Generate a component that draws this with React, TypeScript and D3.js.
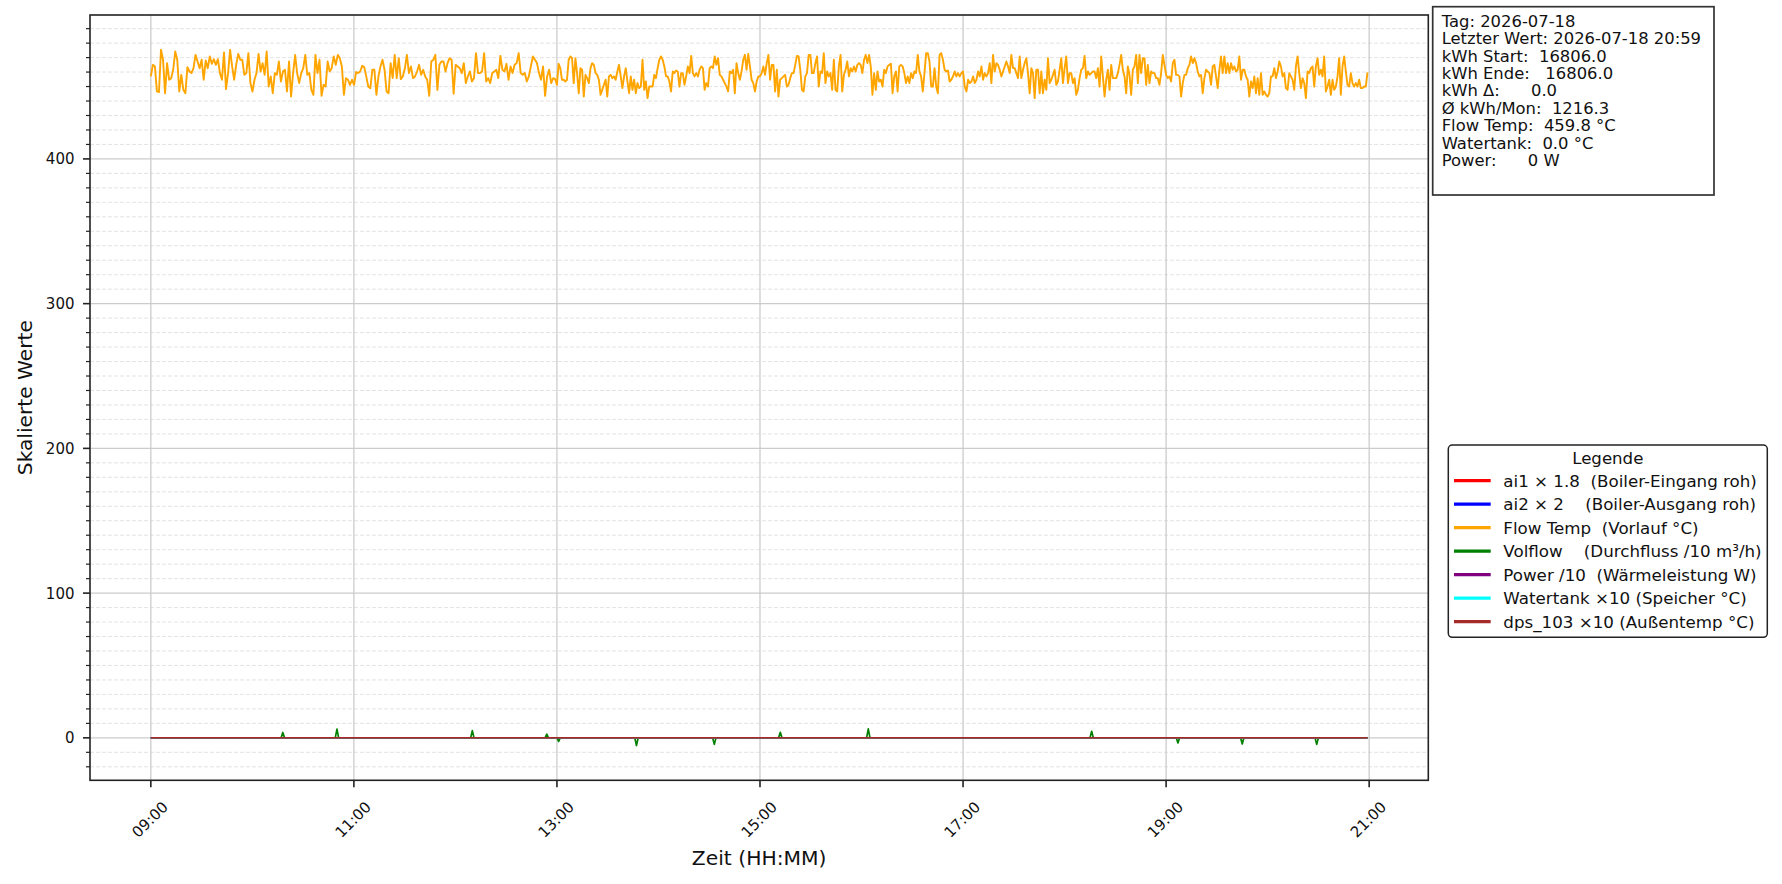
import * as d3 from "d3";

// --- data --------------------------------------------------------------
// Flow Temp (Vorlauf °C), sampled roughly every 1.2 min, three 4h stretches
const flowTempA = [
  457.0, 465.0, 463.9, 446.6, 446.1, 475.4, 468.5, 445.4, 466.2, 454.7, 455.8, 461.6, 474.2, 468.5, 446.6, 458.1,
  447.7, 445.4, 463.4, 460.4, 459.3, 462.7, 471.9, 467.3, 462.7, 468.5, 454.7, 468.0, 462.7, 470.8, 465.7, 468.9,
  465.0, 468.9, 459.3, 454.7, 473.5, 448.2, 459.3, 475.4, 463.9, 454.7, 465.0, 472.6, 468.5, 468.5, 458.1, 459.3,
  473.1, 452.4, 446.6, 454.7, 459.3, 472.6, 460.4, 466.2, 458.1, 474.2, 450.0, 457.0, 445.4, 459.3, 458.1, 467.3,
  453.5, 460.4, 461.6, 446.6, 467.3, 443.1, 459.3, 471.9, 459.3, 452.4, 459.3, 462.7, 471.9, 458.1, 459.3, 447.7,
  444.3, 471.9, 459.3, 468.5, 443.6, 451.2, 450.0, 467.3, 460.4, 462.7, 470.8, 465.0, 471.9, 469.6, 463.9, 444.3,
  455.8, 454.7, 451.2, 454.7, 451.2, 460.0, 459.3, 460.4, 464.3, 463.4, 457.0, 450.0, 448.9, 461.6, 461.6, 444.3,
  457.0, 463.9, 468.5, 461.6, 446.6, 445.4, 466.2, 455.8, 471.9, 455.8, 469.6, 455.1, 457.0, 462.7, 471.9, 459.3,
  463.9, 455.8, 457.0, 460.4, 465.0, 458.1, 461.6, 457.0, 454.7, 443.6, 467.3, 468.5, 471.9, 447.7, 465.0, 467.3,
  467.3, 460.4, 466.2, 469.6, 468.5, 445.0, 465.0, 463.9, 462.7, 459.3, 466.2, 452.4, 457.0, 460.4, 453.5, 455.8,
  473.1, 459.3, 459.3, 460.4, 473.1, 453.5, 455.8, 452.4, 459.3, 460.4, 461.6, 455.8, 471.2, 461.6, 460.4, 465.7,
  454.7, 463.9, 459.3, 465.0, 466.2, 473.1, 459.3, 458.1, 459.3, 453.5, 457.0, 463.9, 470.8, 468.5, 466.2, 459.3,
  454.7, 463.9, 443.6, 457.0, 461.6, 452.4, 455.8, 455.1,
];
const flowTempB = [
  451.2, 465.7, 462.7, 454.7, 454.7, 453.5, 454.7, 468.5, 470.8, 469.6, 452.4, 469.6, 459.3, 445.4, 462.7, 461.6,
  443.1, 458.1, 455.8, 452.4, 462.7, 466.2, 465.0, 459.3, 458.1, 454.7, 444.3, 447.7, 451.2, 454.7, 443.1, 457.0,
  458.1, 455.8, 457.0, 454.7, 460.4, 465.0, 457.0, 448.9, 457.0, 462.7, 453.5, 445.4, 457.0, 447.7, 454.7, 445.4,
  452.4, 448.9, 450.0, 468.5, 447.7, 453.5, 442.0, 450.0, 450.0, 450.0, 458.1, 455.8, 462.7, 468.5, 470.8, 468.5,
  463.9, 457.0, 457.0, 453.5, 446.6, 460.4, 459.3, 461.1, 460.4, 450.0, 459.3, 459.3, 451.2, 457.0, 463.9, 459.3,
  471.2, 459.3, 457.0, 459.3, 457.0, 461.6, 463.9, 462.7, 447.7, 452.4, 450.0, 462.7, 463.9, 462.7, 470.8, 465.0,
  469.6, 458.1, 457.0, 454.7, 452.4, 450.0, 446.6, 460.4, 459.3, 461.6, 445.4, 466.2, 459.3, 454.7, 460.4, 468.5,
  471.9, 461.6, 472.6, 463.9, 454.7, 452.4, 446.6, 453.5, 457.0, 457.0, 459.3, 463.9, 458.1, 466.2, 471.9, 454.7,
  465.0, 465.0, 446.6, 461.6, 443.1, 454.7, 455.8, 457.0, 458.1, 450.0, 451.2, 455.8, 459.3, 459.3, 465.0, 471.2,
  470.8, 461.6, 447.7, 446.6, 457.0, 459.3, 471.9, 471.9, 459.3, 459.3, 466.2, 470.8, 450.0, 460.4, 459.3, 473.1,
  452.4, 460.4, 457.0, 459.3, 447.7, 468.5, 447.7, 446.6, 463.9, 471.9, 446.6, 458.1, 461.6, 467.3, 457.0, 462.7,
  460.4, 463.9, 460.4, 465.0, 466.2, 465.0, 459.3, 468.5, 471.9, 466.2, 471.9, 463.9, 444.3, 459.3, 447.7, 460.4,
  453.5, 454.7, 450.0, 461.6, 459.3, 463.9, 465.0, 465.7, 445.4, 457.0, 460.4, 446.6, 463.9, 465.0, 463.9, 459.3,
  452.4, 457.0, 452.4, 459.3, 455.8, 460.4, 459.3, 471.9, 460.4, 457.0, 446.6, 459.3, 473.1, 473.1, 467.3, 450.0,
  450.0, 462.7, 450.0, 445.4, 471.9, 473.1, 468.5, 461.6, 460.4, 461.1, 453.5, 454.7, 457.0, 460.4, 457.0, 459.3,
  457.0, 459.3, 460.4, 450.0,
];
const flowTempC = [
  446.6, 454.7, 452.4, 453.5, 457.0, 452.4, 454.7, 460.4, 457.0, 463.9, 454.7, 459.3, 457.0, 459.3, 466.2, 452.4,
  471.9, 460.4, 466.2, 465.0, 461.6, 457.0, 460.4, 463.9, 467.3, 463.9, 459.3, 471.9, 462.7, 462.7, 459.3, 455.8,
  470.8, 455.8, 461.6, 466.2, 469.6, 459.3, 445.4, 462.7, 459.3, 442.0, 461.6, 461.6, 445.4, 460.4, 445.4, 454.7,
  447.7, 469.6, 452.4, 454.7, 458.1, 461.6, 451.2, 453.5, 461.6, 469.6, 452.4, 462.7, 470.8, 452.4, 459.3, 459.3,
  452.4, 455.8, 444.3, 447.7, 455.8, 461.6, 462.7, 471.2, 455.8, 460.4, 458.1, 459.3, 460.4, 460.4, 455.8, 462.7,
  450.0, 470.8, 457.0, 443.1, 454.7, 461.6, 447.7, 465.0, 455.8, 455.8, 455.8, 459.3, 465.0, 471.9, 461.6, 457.0,
  445.4, 463.9, 458.1, 444.3, 461.6, 463.9, 471.9, 452.4, 471.9, 459.3, 469.6, 469.6, 451.2, 465.0, 452.4, 460.4,
  459.3, 459.3, 455.8, 455.8, 451.2, 459.3, 471.9, 465.0, 458.1, 455.8, 457.0, 453.5, 466.2, 468.5, 458.1, 458.1,
  457.0, 443.1, 452.4, 458.1, 458.1, 462.7, 465.0, 470.8, 466.2, 469.6, 466.2, 460.4, 457.0, 458.1, 445.4, 455.8,
  461.6, 460.4, 459.3, 451.2, 463.9, 465.0, 457.0, 448.9, 461.6, 470.8, 459.3, 470.8, 459.3, 466.2, 459.3, 466.2,
  461.6, 463.9, 460.4, 461.6, 470.8, 454.7, 461.6, 461.6, 457.0, 454.7, 443.1, 453.5, 448.9, 457.0, 445.4, 455.8,
  444.3, 459.3, 444.3, 446.6, 444.3, 443.1, 445.4, 457.0, 457.0, 462.7, 455.8, 460.4, 467.3, 463.9, 457.0, 459.3,
  448.9, 447.7, 459.3, 457.0, 454.7, 447.7, 463.9, 470.8, 459.3, 448.9, 455.8, 452.4, 442.0, 460.4, 459.3, 462.7,
  463.9, 450.0, 463.9, 469.6, 458.1, 461.6, 457.0, 470.8, 446.6, 450.0, 454.7, 444.3, 454.7, 447.7, 450.0, 457.0,
  469.6, 444.3, 463.9, 470.8, 460.4, 451.2, 450.0, 459.3, 452.4, 450.0, 452.4, 450.0, 454.7, 448.9, 448.9, 450.0,
  450.0, 459.8,
];
const flowSegments: { start: string; end: string; values: number[] }[] = [
  { start: "09:00", end: "12:59", values: flowTempA },
  { start: "13:00", end: "17:01", values: flowTempB },
  { start: "17:02", end: "20:59", values: flowTempC },
];

// Volflow /10 — zero except a few short spikes
const volflow: [string, number][] = [
  ["09:00", 0], ["10:17", 0], ["10:18", 3.7], ["10:19", 0], ["10:49", 0], ["10:50", 6.0], ["10:51", 0],
  ["12:09", 0], ["12:10", 5.0], ["12:11", 0], ["12:53", 0], ["12:54", 2.5], ["12:55", 0], ["13:00", 0],
  ["13:01", -2.5], ["13:02", 0], ["13:46", 0], ["13:47", -5.3], ["13:48", 0], ["14:32", 0], ["14:33", -4.5],
  ["14:34", 0], ["15:11", 0], ["15:12", 3.8], ["15:13", 0], ["16:03", 0], ["16:04", 6.2], ["16:05", 0],
  ["18:15", 0], ["18:16", 4.5], ["18:17", 0], ["19:06", 0], ["19:07", -3.5], ["19:08", 0], ["19:44", 0],
  ["19:45", -4.2], ["19:46", 0], ["20:28", 0], ["20:29", -4.5], ["20:30", 0], ["20:59", 0],
];
// flat series (all zero the whole day)
const ai1: [string, number][] = [["09:00", 0], ["20:59", 0]];
const ai2: [string, number][] = [["09:00", 0], ["20:59", 0]];
const power: [string, number][] = [["09:00", 0], ["20:59", 0]];
const watertank: [string, number][] = [["09:00", 0], ["20:59", 0]];
const dps103: [string, number][] = [["09:00", 0], ["20:59", 0]];

const seriesLabels = [
  "ai1 × 1.8  (Boiler-Eingang roh)",
  "ai2 × 2    (Boiler-Ausgang roh)",
  "Flow Temp  (Vorlauf °C)",
  "Volflow    (Durchfluss /10 m³/h)",
  "Power /10  (Wärmeleistung W)",
  "Watertank ×10 (Speicher °C)",
  "dps_103 ×10 (Außentemp °C)",
];
const seriesColors = ["red", "blue", "orange", "green", "purple", "cyan", "brown"];

const xTickLabels = ["09:00", "11:00", "13:00", "15:00", "17:00", "19:00", "21:00"];
const yTicks = [0, 100, 200, 300, 400];

const infoLines = [
  "Tag: 2026-07-18",
  "Letzter Wert: 2026-07-18 20:59",
  "kWh Start:  16806.0",
  "kWh Ende:   16806.0",
  "kWh Δ:      0.0",
  "Ø kWh/Mon:  1216.3",
  "Flow Temp:  459.8 °C",
  "Watertank:  0.0 °C",
  "Power:      0 W",
];

// -----------------------------------------------------------------------
const W = 1782;
const H = 884;
const plot = { left: 90, right: 1428.3, top: 15, bottom: 780.3 };
const font = "DejaVu Sans, sans-serif";

const parse = d3.timeParse("%H:%M");
const t = (s: string) => parse(s) as Date;

type Pt = { date: Date; v: number };

const flowPoints: Pt[] = flowSegments.flatMap((seg) => {
  const t0 = t(seg.start).getTime();
  const t1 = t(seg.end).getTime();
  const n = seg.values.length;
  return seg.values.map((v, i) => ({ date: new Date(t0 + ((t1 - t0) * i) / (n - 1)), v }));
});
const toPts = (arr: [string, number][]): Pt[] => arr.map(([s, v]) => ({ date: t(s), v }));

const series: Pt[][] = [
  toPts(ai1),
  toPts(ai2),
  flowPoints,
  toPts(volflow),
  toPts(power),
  toPts(watertank),
  toPts(dps103),
];

export default function App() {
  const all = series.flat();
  const [tMin, tMax] = d3.extent(all, (d) => d.date.getTime()) as [number, number];
  const [vMin, vMax] = d3.extent(all, (d) => d.v) as [number, number];
  const tPad = (tMax - tMin) * 0.05;
  const vPad = (vMax - vMin) * 0.05;

  const x = d3
    .scaleTime()
    .domain([new Date(tMin - tPad), new Date(tMax + tPad)])
    .range([plot.left, plot.right]);
  const y = d3
    .scaleLinear()
    .domain([vMin - vPad, vMax + vPad])
    .range([plot.bottom, plot.top]);

  const line = d3
    .line<Pt>()
    .x((d) => x(d.date))
    .y((d) => y(d.v));

  const minorTicks = d3.range(-20, 500, 10).filter((v) => v % 100 !== 0);

  const legend = { x: 1448.3, y: 445, w: 319, h: 192.3 };
  const rowY = (i: number) => 480.7 + i * 23.5;

  return (
    <svg
      width={W}
      height={H}
      style={{ position: "absolute", left: 0, top: 0, background: "white" }}
      fontFamily={font}
    >
      <rect width={W} height={H} fill="white" />

      {/* minor grid */}
      {minorTicks.map((v) => (
        <line
          key={"mg" + v}
          x1={plot.left}
          x2={plot.right}
          y1={y(v)}
          y2={y(v)}
          stroke="#dcdcdc"
          strokeWidth={0.8}
          strokeDasharray="4 2"
        />
      ))}
      {/* major grid */}
      {yTicks.map((v) => (
        <line key={"gy" + v} x1={plot.left} x2={plot.right} y1={y(v)} y2={y(v)} stroke="#cccccc" strokeWidth={1.3} />
      ))}
      {xTickLabels.map((s) => (
        <line key={"gx" + s} x1={x(t(s))} x2={x(t(s))} y1={plot.top} y2={plot.bottom} stroke="#cccccc" strokeWidth={1.3} />
      ))}

      {/* series */}
      {series.map((pts, i) => (
        <path
          key={"s" + i}
          d={line(pts) || ""}
          fill="none"
          stroke={seriesColors[i]}
          strokeWidth={i === 2 ? 1.9 : 1.7}
          strokeLinejoin="round"
        />
      ))}

      {/* spines */}
      <rect
        x={plot.left}
        y={plot.top}
        width={plot.right - plot.left}
        height={plot.bottom - plot.top}
        fill="none"
        stroke="#222"
        strokeWidth={1.6}
      />

      {/* y axis */}
      {minorTicks.map((v) => (
        <line key={"mt" + v} x1={plot.left - 4} x2={plot.left} y1={y(v)} y2={y(v)} stroke="#222" strokeWidth={1.2} />
      ))}
      {yTicks.map((v) => (
        <g key={"yt" + v}>
          <line x1={plot.left - 7} x2={plot.left} y1={y(v)} y2={y(v)} stroke="#222" strokeWidth={1.6} />
          <text x={74.5} y={y(v)} dy="0.36em" textAnchor="end" fontSize={15} fill="#111">
            {v}
          </text>
        </g>
      ))}
      <text
        transform={`translate(31.7, ${(plot.top + plot.bottom) / 2}) rotate(-90)`}
        textAnchor="middle"
        fontSize={20.2}
        fill="#111"
      >
        Skalierte Werte
      </text>

      {/* x axis */}
      {xTickLabels.map((s) => {
        const px = x(t(s));
        return (
          <g key={"xt" + s}>
            <line x1={px} x2={px} y1={plot.bottom} y2={plot.bottom + 7} stroke="#222" strokeWidth={1.6} />
            <text
              transform={`translate(${px - 1}, 819.5) rotate(-45)`}
              textAnchor="middle"
              dy="0.36em"
              fontSize={15}
              fill="#111"
            >
              {s}
            </text>
          </g>
        );
      })}
      <text x={(plot.left + plot.right) / 2} y={865} textAnchor="middle" fontSize={20.3} fill="#111">
        Zeit (HH:MM)
      </text>

      {/* info box */}
      <rect x={1432.7} y={6.7} width={281.3} height={188.3} fill="white" stroke="#333" strokeWidth={1.7} />
      {infoLines.map((s, i) => (
        <text key={"il" + i} x={1441.7} y={26.7 + i * 17.4} fontSize={16.4} fill="#111" style={{ whiteSpace: "pre" }}>
          {s}
        </text>
      ))}

      {/* legend */}
      <rect
        x={legend.x}
        y={legend.y}
        width={legend.w}
        height={legend.h}
        rx={4}
        fill="white"
        stroke="#222"
        strokeWidth={1.5}
      />
      <text x={legend.x + legend.w / 2} y={464} textAnchor="middle" fontSize={16.6} fill="#111">
        Legende
      </text>
      {seriesLabels.map((s, i) => (
        <g key={"lg" + i}>
          <line x1={1454} x2={1490.7} y1={rowY(i)} y2={rowY(i)} stroke={seriesColors[i]} strokeWidth={3.3} />
          <text x={1503.3} y={rowY(i)} dy="0.36em" fontSize={16.7} fill="#111" style={{ whiteSpace: "pre" }}>
            {s}
          </text>
        </g>
      ))}
    </svg>
  );
}
